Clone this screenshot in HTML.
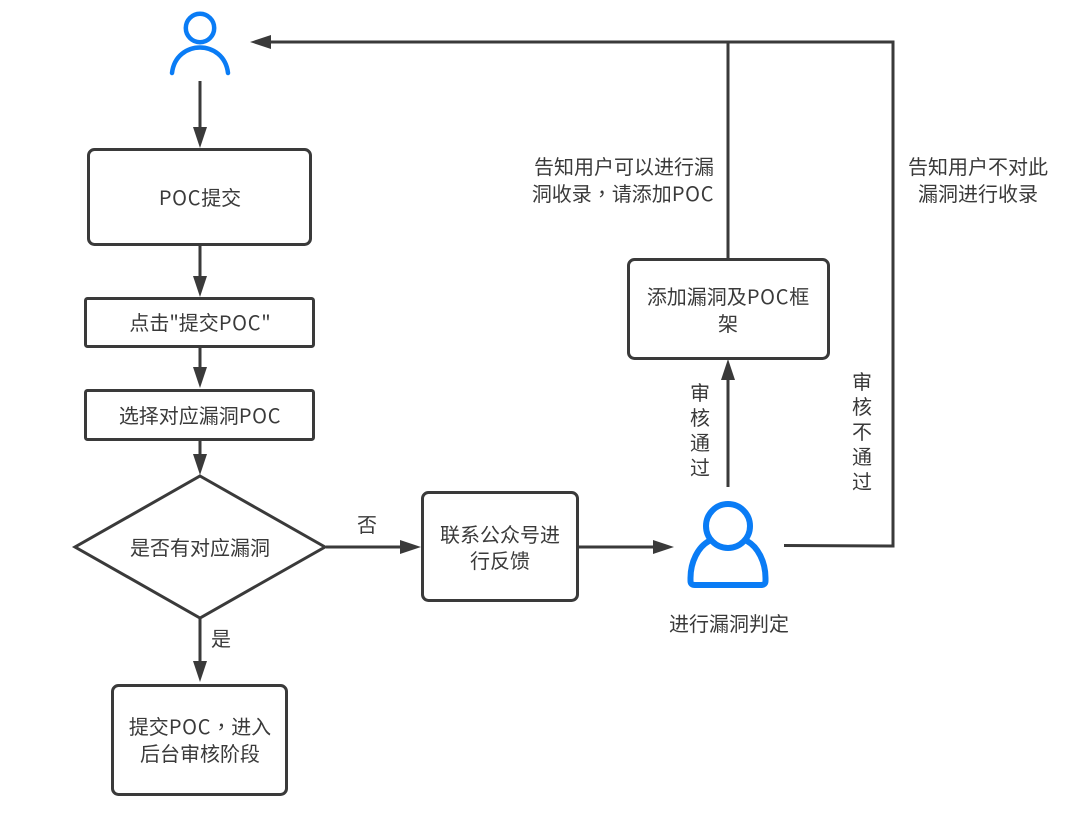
<!DOCTYPE html>
<html><head><meta charset="utf-8">
<style>
html,body{margin:0;padding:0;background:#fff;width:1080px;height:825px;overflow:hidden}
svg{display:block}
text{font-family:"Noto Sans CJK SC","Liberation Sans",sans-serif;font-size:20px;fill:#3a3a3a;text-anchor:middle}
.c{font-family:"Noto Sans CJK TC","Noto Sans CJK SC",sans-serif}
.p{letter-spacing:.7px}
.b{fill:#fff;stroke:#3a3a3a;stroke-width:3}
.l{fill:none;stroke:#3a3a3a;stroke-width:3}
.a{fill:#3a3a3a;stroke:none}
.u{fill:none;stroke:#0a7cf5;stroke-linecap:round;stroke-linejoin:round}
</style></head><body>
<svg width="1080" height="825" viewBox="0 0 1080 825" xmlns="http://www.w3.org/2000/svg">
<rect width="1080" height="825" fill="#fff"/>
<!-- user top -->
<circle cx="200" cy="28" r="14.200" class="u" stroke-width="4.500"/>
<path d="M172 73 C176 39 224 39 228 73" class="u" stroke-width="4.500"/>
<!-- user right -->
<circle cx="728" cy="526" r="22" class="u" stroke-width="6"/>
<path d="M709 541 C698 547 690.500 562 690.500 578 V581 Q690.500 585 695 585 L761 585 Q765.500 585 765.500 581 V578 C765.500 562 758 547 747 541" class="u" stroke-width="6"/>
<!-- lines -->
<path class="l" d="M200 81V130"/><path class="a" d="M193 127H207L200 148Z"/>
<path class="l" d="M200 245V282"/><path class="a" d="M193 276H207L200 297Z"/>
<path class="l" d="M200 347V372"/><path class="a" d="M193 367H207L200 388Z"/>
<path class="l" d="M200 440V460"/><path class="a" d="M193 454H207L200 475Z"/>
<path class="l" d="M200 618V665"/><path class="a" d="M193 661H207L200 682Z"/>
<path class="l" d="M326 547H405"/><path class="a" d="M400 540V554L421 547Z"/>
<path class="l" d="M578 547H658"/><path class="a" d="M653 540V554L674 547Z"/>
<path class="l" d="M728 487V375"/><path class="a" d="M721 380H735L728 359Z"/>
<path class="l" d="M728 259V42"/>
<path class="l" d="M784 545.500L893 546V42H265"/><path class="a" d="M271 35V49L250 42Z"/>
<!-- boxes -->
<rect class="b" x="88.500" y="149.500" width="222" height="95" rx="6"/>
<rect class="b" x="85.500" y="298.500" width="228" height="48" rx="2"/>
<rect class="b" x="85.500" y="390.500" width="228" height="49" rx="2"/>
<path class="b" d="M200 476L325 547L200 618L75 547Z"/>
<rect class="b" x="112.500" y="685.500" width="174" height="109" rx="6"/>
<rect class="b" x="422.500" y="492.500" width="155" height="108" rx="6"/>
<rect class="b" x="628.500" y="259.500" width="200" height="99" rx="6"/>
<!-- text -->
<text x="200" y="205"><tspan class="p">POC</tspan>提交</text>
<text x="200" y="330">点击"提交<tspan class="p">POC</tspan>"</text>
<text x="200" y="423">选择对应漏洞<tspan class="p">POC</tspan></text>
<text x="200" y="555">是否有对应漏洞</text>
<text x="200" y="734">提交<tspan class="p">POC</tspan><tspan class="c">，</tspan>进入</text>
<text x="200" y="761">后台审核阶段</text>
<text x="500" y="542">联系公众号进</text>
<text x="500" y="568">行反馈</text>
<text x="728" y="304">添加漏洞及<tspan class="p">POC</tspan>框</text>
<text x="728" y="331">架</text>
<text x="729" y="631">进行漏洞判定</text>
<text x="367" y="532">否</text>
<text x="221" y="646">是</text>
<text x="624" y="174">告知用户可以进行漏</text>
<text x="623" y="201">洞收录<tspan class="c">，</tspan>请添加<tspan class="p">POC</tspan></text>
<text x="978" y="174">告知用户不对此</text>
<text x="978" y="201">漏洞进行收录</text>
<text x="700" y="400">审</text>
<text x="700" y="425">核</text>
<text x="700" y="450">通</text>
<text x="700" y="475">过</text>
<text x="862" y="389">审</text>
<text x="862" y="414">核</text>
<text x="862" y="439">不</text>
<text x="862" y="464">通</text>
<text x="862" y="489">过</text>
</svg>
</body></html>
